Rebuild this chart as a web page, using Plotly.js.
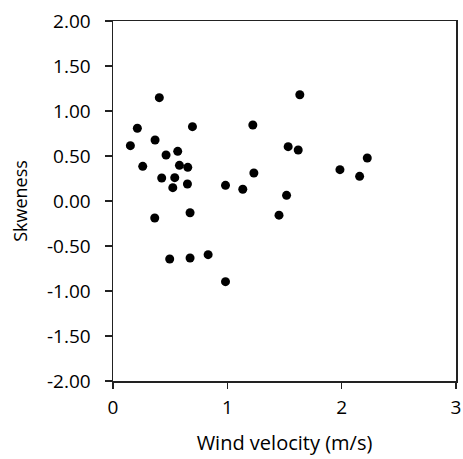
<!DOCTYPE html>
<html>
<head>
<meta charset="utf-8">
<script src="https://cdn.plot.ly/plotly-3.0.1.min.js"></script>
<style>html,body{margin:0;padding:0;background:#fff;}#chart{width:463px;height:459px;}</style>
</head>
<body>
<div id="chart"></div>
<script>
// Wind velocity (m/s)
var windVelocity = [0.152, 0.213, 0.26, 0.365, 0.368, 0.405, 0.426, 0.464, 0.496, 0.523, 0.540, 0.566, 0.581, 0.651, 0.654, 0.674, 0.674, 0.695, 0.832, 0.984, 0.984, 1.135, 1.223, 1.232, 1.452, 1.518, 1.532, 1.620, 1.634, 1.985, 2.157, 2.224];
// Skewness
var skewness = [0.615, 0.808, 0.385, -0.189, 0.678, 1.148, 0.256, 0.511, -0.644, 0.148, 0.259, 0.552, 0.396, 0.189, 0.374, -0.13, -0.633, 0.826, -0.596, 0.174, -0.896, 0.130, 0.844, 0.311, -0.157, 0.063, 0.604, 0.567, 1.181, 0.348, 0.274, 0.478];
var xTicks = [0, 1, 2, 3];
var yTicks = [-2, -1.5, -1, -0.5, 0, 0.5, 1, 1.5, 2];

var tickFont = {family: "Open Sans, sans-serif", size: 19, color: "#000"};
var xTitleFont = {family: "Open Sans, sans-serif", size: 20, color: "#000"};
var yTitleFont = {family: "Open Sans, sans-serif", size: 18, color: "#000"};

Plotly.newPlot("chart", [{
  type: "scatter",
  mode: "markers",
  x: windVelocity,
  y: skewness,
  marker: {color: "#000", size: 9}
}], {
  width: 463, height: 459,
  margin: {l: 113, r: 7, t: 21, b: 78},
  paper_bgcolor: "#fff", plot_bgcolor: "#fff",
  showlegend: false,
  font: tickFont,
  xaxis: {
    range: [0, 3], tickvals: xTicks, ticktext: xTicks.map(String),
    showgrid: false, zeroline: false,
    showline: true, mirror: true, linecolor: "#222", linewidth: 1.5,
    ticks: "outside", ticklen: 6, tickcolor: "#222", tickwidth: 1.5,
    ticklabelstandoff: 3,
    tickfont: tickFont,
    title: {text: "Wind velocity (m/s)", font: xTitleFont, standoff: 16}
  },
  yaxis: {
    range: [-2, 2], tickvals: yTicks, ticktext: yTicks.map(function(v){return v.toFixed(2);}),
    showgrid: false, zeroline: false,
    showline: true, mirror: true, linecolor: "#222", linewidth: 1.5,
    ticks: "outside", ticklen: 7, tickcolor: "#222", tickwidth: 1.5,
    ticklabelstandoff: 10,
    tickfont: tickFont,
    title: {text: "Skweness", font: yTitleFont, standoff: 14}
  }
}, {displayModeBar: false, staticPlot: true});
</script>
</body>
</html>
